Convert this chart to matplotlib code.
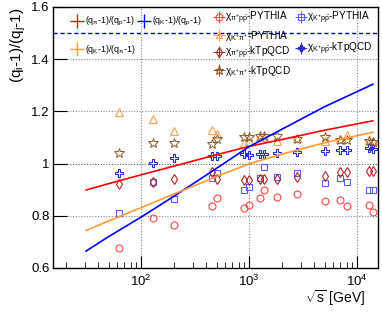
import numpy as np
import matplotlib
matplotlib.use('Agg')
import matplotlib.pyplot as plt
from matplotlib.lines import Line2D
from matplotlib.legend_handler import HandlerTuple
from matplotlib.ticker import LogLocator, FixedLocator, NullFormatter

plt.rcParams['font.family'] = ['Liberation Sans', 'DejaVu Sans']
plt.rcParams['mathtext.fontset'] = 'custom'
plt.rcParams['mathtext.rm'] = 'Liberation Sans'
plt.rcParams['mathtext.it'] = 'Liberation Sans'
plt.rcParams['mathtext.bf'] = 'Liberation Sans:bold'

# sqrt(s) in GeV for the model points
energy = [62.4, 130, 200, 450, 500, 900, 1000, 1250, 1380, 1800,
          2760, 5020, 7000, 8000, 13000, 14000]

# PYTHIA
chi_pipp_py = [0.676, 0.791, 0.766, 0.836, 0.869, 0.831, 0.843, 0.869, 0.897, 0.871,
               0.883, 0.855, 0.859, 0.838, 0.842, 0.816]
chi_kpp_py = [0.811, 0.929, 0.865, 0.945, 0.963, 0.897, 0.909, 0.945, 0.987, 0.948,
              0.963, 0.925, 0.944, 0.931, 0.899, 0.897]
chi_kpi_py = [1.196, 1.171, 1.126, 1.129, 1.112, 1.078, 1.085, 1.100, 1.100, 1.085,
              1.098, 1.088, 1.095, 1.111, 1.090, 1.085]
# kTpQCD
chi_pipp_kt = [0.922, 0.929, 0.941, 0.967, 0.941, 0.939, 0.939, 0.941, 0.941, 0.941,
               0.948, 0.954, 0.967, 0.967, 0.973, 0.973]
chi_kpp_kt = [0.963, 1.003, 1.020, 1.031, 1.031, 1.035, 1.034, 1.037, 1.037, 1.039,
              1.043, 1.047, 1.052, 1.052, 1.060, 1.056]
chi_kpi_kt = [1.041, 1.079, 1.079, 1.075, 1.094, 1.101, 1.101, 1.107, 1.107, 1.107,
              1.094, 1.101, 1.090, 1.090, 1.085, 1.081]

# ratio curves of (q-1)
curve_e = [31, 50, 100, 200, 500, 1000, 2000, 5000, 14000]
ratio_pi_p = [0.899, 0.923, 0.957, 0.990, 1.034, 1.066, 1.092, 1.128, 1.164]
ratio_k_p = [0.665, 0.720, 0.795, 0.874, 0.982, 1.065, 1.131, 1.218, 1.304]
ratio_k_pi = [0.744, 0.780, 0.831, 0.883, 0.950, 0.999, 1.036, 1.080, 1.120]

fig = plt.figure(figsize=(3.82, 3.12), dpi=100)
ax = fig.add_axes([53/382, 1 - 268/312, 325/382, 261/312])

for yv in [0.8, 1.2, 1.4]:
    ax.axhline(yv, color='#888888', ls=(0, (1, 1.5)), lw=0.8, zorder=0)
ax.axhline(1.0, color='#555555', ls=(0, (1, 1.5)), lw=0.8, zorder=0)
for xv in [1e2, 1e3, 1e4]:
    ax.axvline(xv, color='#888888', ls=(0, (1, 1.5)), lw=0.8, zorder=0)
ax.axhline(1.5, color='#0000bb', ls=(0, (3, 2)), lw=1.0, zorder=1)

ms = 5
ax.plot(energy, chi_pipp_py, ls='none', marker='o', ms=ms, mfc='none', mec='#ff4444', mew=0.8)
ax.plot(energy, chi_kpp_py, ls='none', marker='s', ms=ms, mfc='none', mec='#5a5aff', mew=0.8)
ax.plot(energy, chi_kpi_py, ls='none', marker='^', ms=ms + 0.5, mfc='none', mec='#ffa050', mew=0.8)
ax.plot(energy, chi_pipp_kt, ls='none', marker='d', ms=ms, mfc='none', mec='#b02525', mew=0.8)
ax.plot(energy, chi_kpp_kt, ls='none', marker='P', ms=ms + 1, mfc='none', mec='#2a2ad0', mew=0.8)
ax.plot(energy, chi_kpi_kt, ls='none', marker='*', ms=ms + 2, mfc='none', mec='#8b5a2b', mew=0.7)

ax.plot(curve_e, ratio_pi_p, color='#ff0000', lw=1.2)
ax.plot(curve_e, ratio_k_p, color='#0000ff', lw=1.2)
ax.plot(curve_e, ratio_k_pi, color='#ff9933', lw=1.2)

ax.set_xscale('log')
ax.set_xlim(15.3, 15600)
ax.set_ylim(0.6, 1.6)
ax.yaxis.set_major_locator(FixedLocator([0.6, 0.8, 1.0, 1.2, 1.4, 1.6]))
ax.set_yticklabels(['0.6', '0.8', '1', '1.2', '1.4', '1.6'])
ax.xaxis.set_major_locator(FixedLocator([1e2, 1e3, 1e4]))
ax.set_xticklabels([r'$10^{2}$', r'$10^{3}$', r'$10^{4}$'])
ax.xaxis.set_minor_locator(LogLocator(base=10, subs=np.arange(2, 10)))
ax.xaxis.set_minor_formatter(NullFormatter())
ax.tick_params(which='both', direction='in', top=False, right=False, labelsize=9.5)
ax.tick_params(axis='x', which='major', length=9, pad=4)
ax.tick_params(axis='x', which='minor', length=4.5)
ax.tick_params(axis='y', which='major', length=10, pad=2.5)
for sp in ax.spines.values():
    sp.set_linewidth(1.0)

ax.set_ylabel(r'(q$_{i}$-1)/(q$_{j}$-1)', fontsize=11, loc='top', labelpad=2)
ax.text(0.96, -0.078, r'$\sqrt{s}$ [GeV]', transform=ax.transAxes, ha='right', va='top', fontsize=10)

# legend for the ratio curves
def cross(c):
    return Line2D([], [], color=c, marker='+', ms=10, mew=1.0, ls='none')

blank = Line2D([], [], ls='none')
leg1 = ax.legend([cross('#ff0000'), cross('#ff9933'), cross('#0000ff'), blank],
                 [r'(q$_{\pi}$-1)/(q$_{p}$-1)', r'(q$_{K}$-1)/(q$_{\pi}$-1)',
                  r'(q$_{K}$-1)/(q$_{p}$-1)', ''],
                 ncol=2, loc='upper left', bbox_to_anchor=(0.052, 0.969), frameon=False,
                 fontsize=6.4, handlelength=1.5, handletextpad=0.25, columnspacing=0.1,
                 labelspacing=1.7, borderpad=0, borderaxespad=0)
ax.add_artist(leg1)

# legend for the model points
def entry(c, m, size):
    err = Line2D([], [], color=c, marker='+', ms=8, mew=0.7, ls='none')
    mk = Line2D([], [], color=c, marker=m, ms=size, mfc='none', mew=0.8, ls='none')
    return (err, mk)

handles = [entry('#ff4444', 'o', 5), entry('#ffa050', '^', 5), entry('#b02525', 'd', 5),
           entry('#8b5a2b', '*', 6.5), entry('#5a5aff', 's', 5), blank,
           (Line2D([], [], color='#2a2ad0', marker='+', ms=8, mew=0.7, ls='none'),
            Line2D([], [], color='#2a2ad0', marker='P', ms=5, ls='none')), blank]
labels = [r'$\chi_{\pi^{+}p\bar{p}}$-PYTHIA', r'$\chi_{K^{+}\pi^{+}}$-PYTHIA',
          r'$\chi_{\pi^{+}p\bar{p}}$-kTpQCD', r'$\chi_{K^{+}\pi^{+}}$-kTpQCD',
          r'$\chi_{K^{+}p\bar{p}}$-PYTHIA', '', r'$\chi_{K^{+}p\bar{p}}$-kTpQCD', '']
ax.legend(handles, labels, handler_map={tuple: HandlerTuple(ndivide=1, pad=0)},
          ncol=2, loc='upper left', bbox_to_anchor=(0.496, 0.99), frameon=False,
          fontsize=7.2, handlelength=0.95, handletextpad=0.1, columnspacing=0.55,
          labelspacing=0.25, borderpad=0, borderaxespad=0)

fig.savefig('out.png', dpi=100)
